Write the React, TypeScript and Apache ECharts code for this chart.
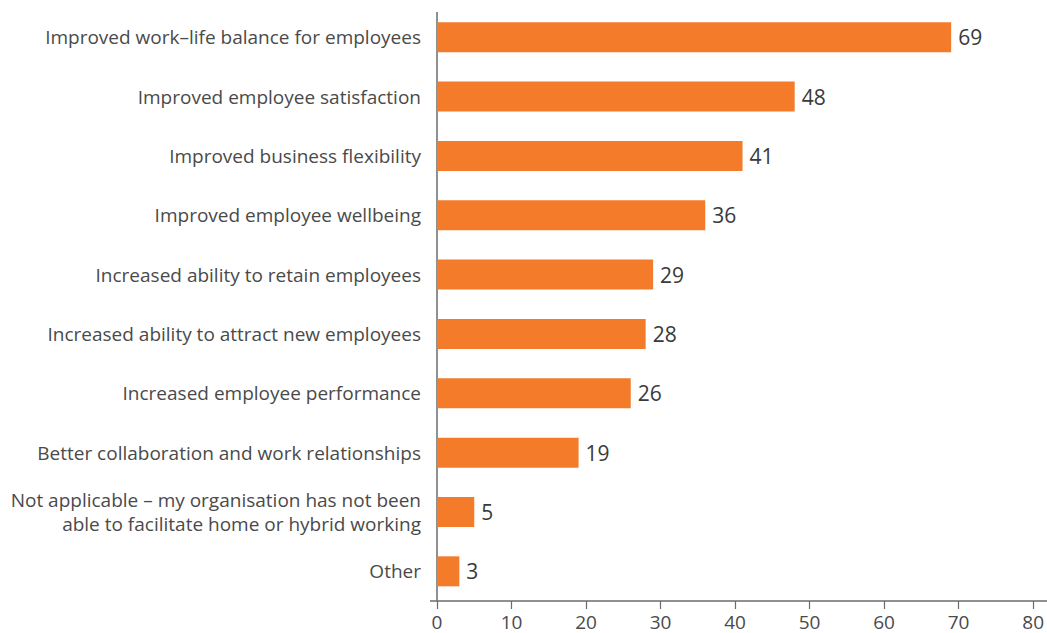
import React, { useEffect, useRef } from "react";
import * as echarts from "echarts";

const categories = [
  "Improved work–life balance for employees",
  "Improved employee satisfaction",
  "Improved business flexibility",
  "Improved employee wellbeing",
  "Increased ability to retain employees",
  "Increased ability to attract new employees",
  "Increased employee performance",
  "Better collaboration and work relationships",
  "Not applicable – my organisation has not been\nable to facilitate home or hybrid working",
  "Other",
];
const values = [69, 48, 41, 36, 29, 28, 26, 19, 5, 3];
const xTicks = { min: 0, max: 80, interval: 10 };

export default function App() {
  const ref = useRef<HTMLDivElement>(null);
  useEffect(() => {
    if (!ref.current) return;
    const chart = echarts.init(ref.current, null, { renderer: "svg" });
    const font = "'Open Sans', 'Noto Sans', sans-serif";
    chart.setOption({
      animation: false,
      textStyle: { fontFamily: font },
      grid: { left: 437, right: 11, top: 7.5, bottom: 32, containLabel: false },
      xAxis: {
        type: "value",
        min: xTicks.min,
        max: xTicks.max,
        interval: xTicks.interval,
        axisLine: { show: false },
        axisTick: { show: true, length: 8, lineStyle: { color: "#6b6b6b", width: 1.2 } },
        splitLine: { show: false },
        axisLabel: { color: "#4a4a4a", fontSize: 19, margin: 11, fontFamily: font },
      },
      yAxis: {
        type: "category",
        data: categories,
        inverse: true,
        axisLine: { show: false },
        axisTick: { show: false },
        axisLabel: {
          color: "#4a4a4a",
          fontSize: 19,
          margin: 16,
          lineHeight: 24,
          align: "right",
          fontFamily: font,
        },
      },
      series: [
        {
          type: "bar",
          data: values,
          barWidth: 30,
          itemStyle: { color: "#F47B2A" },
          label: {
            show: true,
            position: "right",
            distance: 7,
            color: "#3a3a3a",
            fontSize: 21,
            fontFamily: font,
          },
        },
      ],
      graphic: [
        {
          type: "line",
          shape: { x1: 437, y1: 12, x2: 437, y2: 601 },
          style: { stroke: "#6b6b6b", lineWidth: 1.5 },
        },
        {
          type: "line",
          shape: { x1: 430, y1: 601, x2: 1047, y2: 601 },
          style: { stroke: "#6b6b6b", lineWidth: 1.5 },
        },
      ],
    });
    return () => chart.dispose();
  }, []);
  return <div ref={ref} style={{ width: 1047, height: 633, position: "absolute", left: 0, top: 0 }} />;
}
